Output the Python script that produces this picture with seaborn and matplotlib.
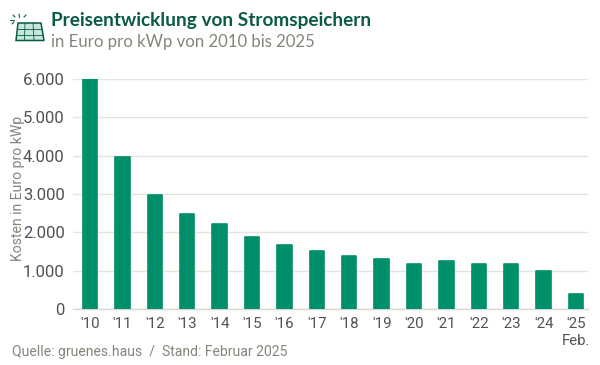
import numpy as np
import pandas as pd
import matplotlib
matplotlib.use('Agg')
import matplotlib.pyplot as plt
from matplotlib.patches import Polygon
from matplotlib.lines import Line2D
from matplotlib.ticker import FuncFormatter
import seaborn as sns

# Data
years = ["'10", "'11", "'12", "'13", "'14", "'15", "'16", "'17",
         "'18", "'19", "'20", "'21", "'22", "'23", "'24", "'25\nFeb."]
prices = [5990, 3960, 2980, 2480, 2230, 1890, 1680, 1510,
          1395, 1300, 1170, 1250, 1180, 1170, 1000, 395]
y_ticks = [0, 1000, 2000, 3000, 4000, 5000, 6000]

title = 'Preisentwicklung von Stromspeichern'
subtitle = 'in Euro pro kWp von 2010 bis 2025'
y_label = 'Kosten in Euro pro kWp'
source = 'Quelle: gruenes.haus  /  Stand: Februar 2025'

GREEN = '#008f6b'
DARK = '#0b5a46'
GREY = '#85857b'
TICK = '#4f5352'
GRID = '#e4e4de'

sns.set_style('white')
plt.rcParams['font.family'] = ['Roboto', 'DejaVu Sans']

W, H = 600, 365
fig = plt.figure(figsize=(W / 100, H / 100), dpi=100, facecolor='white')
ax = fig.add_axes([73 / W, 1 - 309 / H, (588 - 73) / W, (309 - 79) / H])

df = pd.DataFrame({'year': years, 'price': prices})
sns.barplot(data=df, x='year', y='price', color=GREEN, saturation=1, width=0.44,
            linewidth=1.2, edgecolor=GREEN, ax=ax, zorder=3)
for bar in ax.patches:
    bar.set_joinstyle('round')

ax.set_xlim(-0.525, 15.37)
ax.set_ylim(0, 6000)
ax.set_yticks(y_ticks)
ax.yaxis.set_major_formatter(FuncFormatter(lambda v, p: f'{int(v):,}'.replace(',', '.')))
ax.grid(axis='y', color=GRID, linewidth=1.0, zorder=0)
ax.set_axisbelow(True)
ax.tick_params(axis='y', length=0, pad=6, labelsize=12, labelcolor=TICK)
ax.tick_params(axis='x', length=0, pad=6, labelsize=10.8, labelcolor=TICK)
for lbl in ax.get_xticklabels():
    lbl.set_linespacing(1.25)
ax.set_xlabel('')
ax.set_ylabel(y_label, fontsize=10.1, color=GREY)
ax.yaxis.set_label_coords((25 - 73) / (588 - 73), 0.525)
sns.despine(ax=ax, left=True, top=True, right=True)
ax.spines['bottom'].set_color('#d8d8d2')
ax.spines['bottom'].set_linewidth(1.0)

# Header and footer
fig.text(51 / W, 1 - 20.5 / H, title, fontsize=13.7, fontweight='bold', color=DARK,
         family='Lato', va='center')
fig.text(51 / W, 1 - 42 / H, subtitle, fontsize=12.1, color=GREY, family='Lato', va='center')
fig.text(12 / W, 1 - 352 / H, source, fontsize=10.1, color=GREY, va='center')


def px(x, y):
    return (x / W, 1 - y / H)


# Solar panel icon
fig.add_artist(Polygon([px(18, 23), px(41, 23), px(44, 40.5), px(16, 40.5)], closed=True,
                       facecolor='#c6e6d8', edgecolor=DARK, linewidth=1.1,
                       transform=fig.transFigure))
for a, b in [((17, 29), (42, 29)), ((16.5, 34.5), (43, 34.5)), ((25, 23), (24.5, 40)),
             ((33, 23), (34, 40))]:
    fig.add_artist(Line2D([px(*a)[0], px(*b)[0]], [px(*a)[1], px(*b)[1]], color=DARK,
                          linewidth=0.6, transform=fig.transFigure))
for a, b in [((19, 14), (19.5, 17.5)), ((10, 20), (14, 20)), ((13, 15), (15, 17)),
             ((26, 15), (24, 17)), ((12, 24), (14, 22))]:
    fig.add_artist(Line2D([px(*a)[0], px(*b)[0]], [px(*a)[1], px(*b)[1]], color=DARK,
                          linewidth=0.8, transform=fig.transFigure))

fig.savefig('out.png', dpi=100)
